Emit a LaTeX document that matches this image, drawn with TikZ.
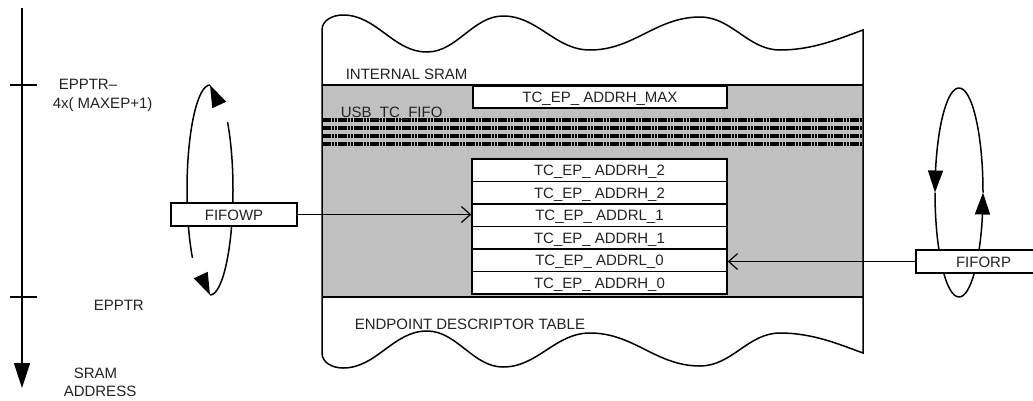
\documentclass[tikz,border=0pt]{standalone}
\usepackage{fontspec}
\setmainfont{Liberation Sans}
\usetikzlibrary{arrows.meta,bending}
\definecolor{fifogray}{RGB}{192,192,192}
\definecolor{txt}{RGB}{35,35,35}
\begin{document}
\begin{tikzpicture}[x=1pt,y=1pt,line width=1.5pt,
  lbl/.style={font=\fontsize{15}{17}\selectfont,text=txt,inner sep=0pt},
  regbox/.style={draw,fill=white,minimum width=255pt,minimum height=22.5pt,inner sep=0pt,
    text height=11pt,text depth=0pt,font=\fontsize{15}{17}\selectfont,text=txt},
  ptrbox/.style={draw,fill=white,minimum height=23pt,inner sep=0pt,
    text height=11pt,text depth=0pt,font=\fontsize{15}{17}\selectfont,text=txt},
  loophead/.style={-{Triangle[length=22pt,width=15pt,flex]}},
  pointer/.style={line width=1.2pt,-{Straight Barb[length=9pt,width=16pt]}},
  fifodots/.style={line width=3.2pt,dash pattern=on 2.6pt off 0.6pt}]
\path[use as bounding box,clip] (0,0) rectangle (1033,-400);
\fill[white] (0,0) rectangle (1033,-400);

% gray FIFO band
\fill[fifogray] (322,-85) rectangle (863,-297);
\foreach \yy in {120,128,136,144}
  \draw[fifodots] (322,-\yy) -- (863,-\yy);

% memory outline with wavy ends
\draw (322,-30) .. controls (322,-20) and (333,-15) .. (343,-15)
  .. controls (377,-15) and (393,-52) .. (427,-52)
  .. controls (457,-52) and (473,-16) .. (503,-16)
  .. controls (538,-16) and (555,-50) .. (590,-50)
  .. controls (634,-50) and (656,-17) .. (700,-17)
  .. controls (732,-17) and (748,-50) .. (780,-50)
  .. controls (813,-50) and (839.5,-38.5) .. (863,-30)
  -- (863,-353)
  .. controls (839.5,-344.5) and (813,-333) .. (780,-333)
  .. controls (748,-333) and (732,-366) .. (700,-366)
  .. controls (656,-366) and (634,-333) .. (590,-333)
  .. controls (555,-333) and (538,-367) .. (503,-367)
  .. controls (473,-367) and (457,-331) .. (427,-331)
  .. controls (393,-331) and (377,-368) .. (343,-368)
  .. controls (333,-368) and (322,-363) .. (322,-353) -- cycle;
\draw (322,-85) -- (863,-85);
\draw (322,-297) -- (863,-297);

% descriptor boxes
\node[regbox,minimum width=254pt,minimum height=22pt] (rmax) at (600,-97) {TC\_EP\_ ADDRH\_MAX};
\node[regbox] (r5) at (599.5,-170.25) {TC\_EP\_ ADDRH\_2};
\node[regbox] (r4) at (599.5,-192.75) {TC\_EP\_ ADDRH\_2};
\node[regbox] (r3) at (599.5,-215.25) {TC\_EP\_ ADDRL\_1};
\node[regbox] (r2) at (599.5,-237.75) {TC\_EP\_ ADDRH\_1};
\node[regbox] (r1) at (599.5,-260.25) {TC\_EP\_ ADDRL\_0};
\node[regbox] (r0) at (599.5,-282.75) {TC\_EP\_ ADDRH\_0};

% labels inside memory
\node[lbl,anchor=base west] (isram) at (345,-79) {INTERNAL SRAM};
\node[lbl,anchor=base west] (usbfifo) at (340,-117.5) {USB\_TC\_FIFO};
\node[lbl,anchor=base west] (edt) at (354,-329) {ENDPOINT DESCRIPTOR TABLE};

% address axis
\coordinate (axtop) at (22,-8);
\coordinate (axbot) at (22,-388);
\draw[-{Triangle[length=25pt,width=16pt]}] (axtop) -- (axbot);
\draw (10,-85) -- (37,-85);
\draw (10,-297) -- (37,-297);
\node[lbl,anchor=base west] (eptop1) at (58,-89.5) {EPPTR–};
\node[lbl,anchor=base west] (eptop2) at (52,-108) {4x( MAXEP+1)};
\node[lbl,anchor=base west] (epbase) at (93,-310) {EPPTR};
\node[lbl,anchor=base west] (sram) at (73,-378) {SRAM};
\node[lbl,anchor=base west] (addr) at (63,-396) {ADDRESS};

% write pointer loop
\draw[loophead] (210,-295) arc[start angle=-90,end angle=90,x radius=23,y radius=105];
\draw[loophead] (210,-85) arc[start angle=90,end angle=270,x radius=23,y radius=105];
\node[ptrbox,minimum width=126pt] (fifowp) at (234,-214.5) {FIFOWP};
\draw[pointer] (fifowp.east) -- (fifowp.east -| r3.west);

% read pointer loop
\draw[loophead] (959,-88) arc[start angle=90,end angle=180,x radius=24,y radius=104.5];
\draw (935,-192.5) arc[start angle=180,end angle=270,x radius=24,y radius=104.5];
\draw[loophead] (959,-297) arc[start angle=270,end angle=360,x radius=24,y radius=104.5];
\draw (983,-192.5) arc[start angle=0,end angle=90,x radius=24,y radius=104.5];
\node[ptrbox,minimum width=135pt] (fiforp) at (983.5,-261.5) {FIFORP};
\draw[pointer] (fiforp.west) -- (fiforp.west -| r1.east);
\end{tikzpicture}
\end{document}
